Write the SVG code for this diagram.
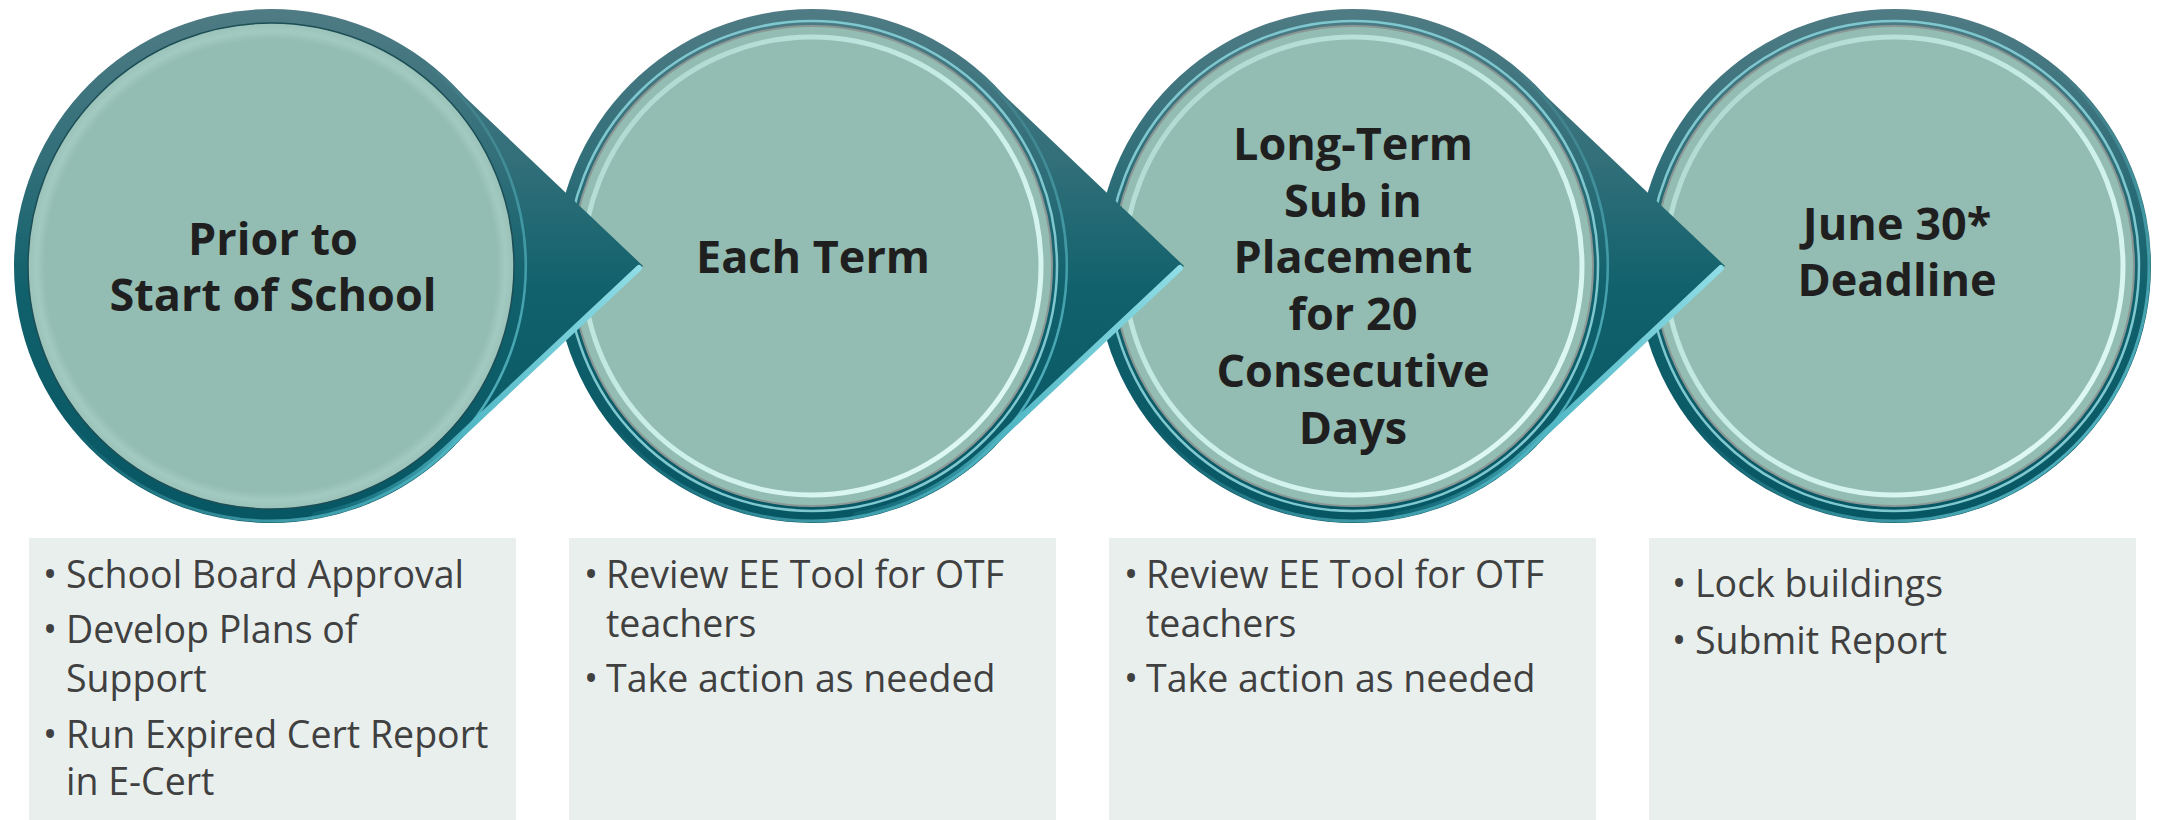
<svg xmlns="http://www.w3.org/2000/svg" width="2162" height="820" viewBox="0 0 2162 820">
<defs>
<linearGradient id="ringG" gradientUnits="userSpaceOnUse" x1="0" y1="9" x2="0" y2="523">
<stop offset="0" stop-color="#4f7b84"/>
<stop offset="0.3" stop-color="#316f79"/>
<stop offset="0.55" stop-color="#10616c"/>
<stop offset="1" stop-color="#075664"/>
</linearGradient>
<linearGradient id="hlG" x1="0" y1="0" x2="1" y2="1">
<stop offset="0" stop-color="#a9d3cb"/>
<stop offset="0.5" stop-color="#c9eee8"/>
<stop offset="1" stop-color="#e6fcf8"/>
</linearGradient>
<linearGradient id="rimG" x1="0" y1="0" x2="1" y2="1">
<stop offset="0.45" stop-color="#5fc2cf" stop-opacity="0"/>
<stop offset="0.9" stop-color="#5fc2cf" stop-opacity="0.9"/>
</linearGradient>
<linearGradient id="bevelG" x1="0" y1="0" x2="1" y2="0">
<stop offset="0" stop-color="#2f95a3" stop-opacity="0.2"/>
<stop offset="0.5" stop-color="#55bac7"/>
<stop offset="1" stop-color="#8fdde6"/>
</linearGradient>
<radialGradient id="face1G" cx="0.5" cy="0.5" r="0.5">
<stop offset="0" stop-color="#93bcb2"/>
<stop offset="0.93" stop-color="#93bcb2"/>
<stop offset="0.965" stop-color="#a3cac0"/>
<stop offset="1" stop-color="#9bc2b8"/>
</radialGradient>
<style>
.ring{fill:url(#ringG)}
.rim{fill:none;stroke:url(#rimG);stroke-width:3}
.face{fill:#93bcb2}
.face1{fill:url(#face1G);stroke:#1c4e56;stroke-width:1.5}
.cyanline{fill:none;stroke:#7fc8d0;stroke-width:2.5}
.facerim{fill:#93bcb2;stroke:#8a9795;stroke-width:2}
.hl{fill:none;stroke:url(#hlG);stroke-width:5}
.arrow{fill:url(#ringG)}
.bevel{fill:none;stroke:url(#bevelG);stroke-width:6;stroke-linecap:round;stroke-linejoin:round}
.title{font-family:"Open Sans","Noto Sans","Liberation Sans",sans-serif;font-weight:700;font-size:45px;fill:#1f1f1f;text-anchor:middle}
.box{fill:#e9efed}
.item{font-family:"Open Sans","Noto Sans","Liberation Sans",sans-serif;font-size:37.5px;fill:#404040}
</style>
</defs>

<g id="node-4">
<circle class="ring" cx="1894" cy="266" r="257"/>
<circle class="rim" cx="1894" cy="266" r="255"/>
<circle class="cyanline" cx="1894" cy="266" r="245"/>
<circle class="facerim" cx="1894" cy="266" r="240"/>
<circle class="hl" cx="1894" cy="266" r="229"/>
</g>
<g id="node-3">
<circle class="ring" cx="1353" cy="266" r="257"/>
<circle class="rim" cx="1353" cy="266" r="255"/>
<circle class="cyanline" cx="1353" cy="266" r="245"/>
<circle class="facerim" cx="1353" cy="266" r="240"/>
<circle class="hl" cx="1353" cy="266" r="229"/>
</g>
<g id="node-2">
<circle class="ring" cx="812" cy="266" r="257"/>
<circle class="rim" cx="812" cy="266" r="255"/>
<circle class="cyanline" cx="812" cy="266" r="245"/>
<circle class="facerim" cx="812" cy="266" r="240"/>
<circle class="hl" cx="812" cy="266" r="229"/>
</g>
<g id="node-1">
<circle class="ring" cx="271" cy="266" r="257"/>
<circle class="rim" cx="271" cy="266" r="255"/>
<circle class="face1" cx="271" cy="266" r="243"/>
</g>

<g id="connectors">
<path class="arrow" d="M447,80 L643,266 L447,452 A256,256 0 0 0 447,80 Z"/>
<path class="bevel" d="M639,268 L445,450 A253,253 0 0 1 315,515"/>
<path class="arrow" d="M988,80 L1184,266 L988,452 A256,256 0 0 0 988,80 Z"/>
<path class="bevel" d="M1180,268 L986,450 A253,253 0 0 1 856,515"/>
<path class="arrow" d="M1529,80 L1725,266 L1529,452 A256,256 0 0 0 1529,80 Z"/>
<path class="bevel" d="M1721,268 L1527,450 A253,253 0 0 1 1397,515"/>
</g>

<g id="label-1">
<text class="title" x="273" y="255">Prior to</text>
<text class="title" x="273" y="311">Start of School</text>
</g>
<g id="label-2">
<text class="title" x="813" y="273">Each Term</text>
</g>
<g id="label-3">
<text class="title" x="1353" y="160">Long-Term</text>
<text class="title" x="1353" y="217">Sub in</text>
<text class="title" x="1353" y="273">Placement</text>
<text class="title" x="1353" y="330">for 20</text>
<text class="title" x="1353" y="387">Consecutive</text>
<text class="title" x="1353" y="444">Days</text>
</g>
<g id="label-4">
<text class="title" x="1897" y="240">June 30*</text>
<text class="title" x="1897" y="296">Deadline</text>
</g>

<g id="box-1">
<rect class="box" x="29" y="538" width="487" height="282"/>
<text class="item" x="43" y="588">•</text>
<text class="item" x="66" y="588">School Board Approval</text>
<text class="item" x="43" y="643">•</text>
<text class="item" x="66" y="643">Develop Plans of</text>
<text class="item" x="66" y="692">Support</text>
<text class="item" x="43" y="748">•</text>
<text class="item" x="66" y="748">Run Expired Cert Report</text>
<text class="item" x="66" y="795">in E-Cert</text>
</g>
<g id="box-2">
<rect class="box" x="569" y="538" width="487" height="282"/>
<text class="item" x="584" y="588">•</text>
<text class="item" x="606" y="588">Review EE Tool for OTF</text>
<text class="item" x="606" y="637">teachers</text>
<text class="item" x="584" y="692">•</text>
<text class="item" x="606" y="692">Take action as needed</text>
</g>
<g id="box-3">
<rect class="box" x="1109" y="538" width="487" height="282"/>
<text class="item" x="1124" y="588">•</text>
<text class="item" x="1146" y="588">Review EE Tool for OTF</text>
<text class="item" x="1146" y="637">teachers</text>
<text class="item" x="1124" y="692">•</text>
<text class="item" x="1146" y="692">Take action as needed</text>
</g>
<g id="box-4">
<rect class="box" x="1649" y="538" width="487" height="282"/>
<text class="item" x="1672" y="597">•</text>
<text class="item" x="1695" y="597">Lock buildings</text>
<text class="item" x="1672" y="654">•</text>
<text class="item" x="1695" y="654">Submit Report</text>
</g>
</svg>
